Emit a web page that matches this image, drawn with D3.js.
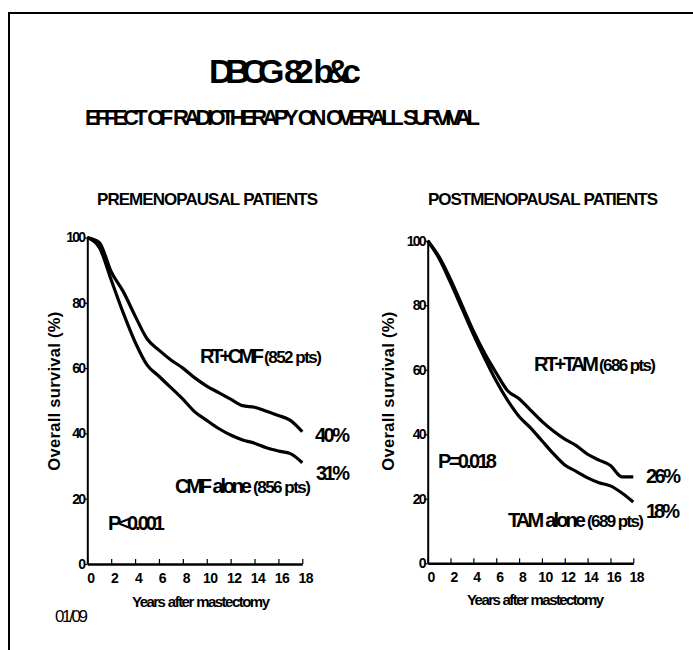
<!DOCTYPE html>
<html lang="en">
<head>
  <meta charset="UTF-8">
  <script src="https://cdn.jsdelivr.net/npm/d3@7"></script>
  <title>DBCG 82 b&c</title>
  <style>
    body { margin: 0; background: #fff; }
    svg { display: block; }
    text { font-family: "Liberation Sans", Arial, sans-serif; fill: #000; }
  </style>
</head>
<body>
<div id="chart"></div>
<script>

  // Data (overall survival, %)
  var years = [0, 1, 2, 3, 4, 5, 6, 7, 8, 9, 10, 11, 12, 13, 14, 15, 16, 17, 18];
  var preRtCmf = [100, 98.5, 89.5, 83.5, 76, 69, 65.5, 62.5, 60, 57, 54.5, 52.5, 50.5, 48.5, 48, 46.8, 45.5, 44, 40.5];
  var preCmf = [100, 97, 87, 77, 68, 61, 57.5, 54, 50.5, 46.6, 44, 41.5, 39.5, 38, 37, 35.6, 34.6, 33.8, 31];
  var postRtTam = [100, 95, 88, 80, 72, 65, 59, 53.5, 51, 47.5, 44, 41, 38.5, 36.5, 33.8, 32, 30.3, 26.8, 26.8];
  var postTam = [100, 94.5, 87, 79, 71, 63.5, 56.5, 50.5, 45.5, 42, 38, 34, 30.5, 28.5, 26.5, 25, 24, 21.8, 19];
  var xTicks = [0, 2, 4, 6, 8, 10, 12, 14, 16, 18];
  var yTicks = [0, 20, 40, 60, 80, 100];

  var W = 693, H = 650;

  var svg = d3.select("#chart")
      .append("svg")
      .attr("width", W)
      .attr("height", H);

  // slide frame (runs off the right and bottom edges)
  svg.append("rect")
      .attr("x", 9).attr("y", 13)
      .attr("width", 700).attr("height", 660)
      .attr("fill", "none")
      .attr("stroke", "#000")
      .attr("stroke-width", 2);

  // squeeze a text to a given width with letter-spacing,
  // keeping part of the word gaps (keep = 0..1)
  function fit(t, len, keep) {
    var s = t.text();
    var n = s.length;
    var spaces = s.split(" ").length - 1;
    keep = keep || 0;
    var natural = t.node().getComputedTextLength();
    if (n > 1) {
      var ls = (len - natural) / ((n - 1) - keep * spaces);
      t.attr("letter-spacing", ls);
      if (keep) t.attr("word-spacing", -ls * keep);
    }
    return t;
  }

  function label(str, x, y, size, len, weight, keep) {
    var t = svg.append("text")
        .attr("x", x).attr("y", y)
        .attr("font-size", size)
        .attr("font-weight", weight || "bold")
        .text(str);
    if (len) fit(t, len, keep);
    return t;
  }

  // Titles
  label("DBCG 82 b&c", 209, 83, 34, 152, "bold", 0.8);
  label("EFFECT OF RADIOTHERAPY ON OVERALL SURVIVAL", 85, 125, 22, 395, "bold", 0.6);
  label("PREMENOPAUSAL PATIENTS", 97, 205, 17, 221, "bold", 0.5);
  label("POSTMENOPAUSAL PATIENTS", 428, 205, 17, 230, "bold", 0.5);
  label("01/09", 55, 622, 17, 33, "normal");

  function drawPanel(left, right, top, bottom, upper, lower) {
    var x = d3.scaleLinear().domain([0, 18]).range([left, right]);
    var y = d3.scaleLinear().domain([0, 100]).range([bottom, top]);

    var line = d3.line()
        .x(function(d, i) { return x(years[i]); })
        .y(function(d) { return y(d); })
        .curve(d3.curveMonotoneX);

    [upper, lower].forEach(function(s) {
      svg.append("path")
          .datum(s)
          .attr("d", line)
          .attr("fill", "none")
          .attr("stroke", "#000")
          .attr("stroke-width", 3.2)
          .attr("stroke-linejoin", "round");
    });

    // y axis
    var ya = svg.append("g")
        .attr("transform", "translate(" + left + ",0)")
        .call(d3.axisLeft(y).tickValues(yTicks).tickSize(3).tickSizeOuter(0).tickPadding(0));
    ya.select(".domain").attr("stroke-width", 2);
    ya.selectAll(".tick line").attr("stroke-width", 1.2);
    ya.selectAll("text")
        .attr("font-size", 14)
        .attr("font-weight", "bold")
        .attr("letter-spacing", -1.8)
        .attr("font-family", "Liberation Sans, Arial, sans-serif");

    // x axis, ticks pointing up
    var xa = svg.append("g")
        .attr("transform", "translate(0," + bottom + ")")
        .call(d3.axisBottom(x).tickValues(xTicks).tickSizeInner(-5).tickSizeOuter(0).tickPadding(9));
    xa.select(".domain").attr("stroke-width", 2.5);
    xa.selectAll(".tick line").attr("stroke-width", 1.2);
    xa.selectAll("text")
        .attr("dx", 3)
        .attr("font-size", 14)
        .attr("font-weight", "bold")
        .attr("letter-spacing", -0.6)
        .attr("font-family", "Liberation Sans, Arial, sans-serif");

    return { x: x, y: y };
  }

  var pre = drawPanel(87.3, 302.3, 237.5, 564, preRtCmf, preCmf);
  var post = drawPanel(427.7, 633.3, 240.7, 563.3, postRtTam, postTam);

  // axis titles
  [[60, 391], [394, 391]].forEach(function(p) {
    var t = svg.append("text")
        .attr("transform", "translate(" + p[0] + "," + p[1] + ")rotate(-90)")
        .attr("text-anchor", "middle")
        .attr("font-size", 16.5)
        .attr("font-weight", "bold")
        .text("Overall survival (%)");
    fit(t, 159);
  });
  label("Years after mastectomy", 132, 607, 15, 138, "bold", 0.5);
  label("Years after mastectomy", 467, 605, 15, 137, "bold", 0.5);

  // premenopausal annotations
  label("RT+CMF", 200, 363, 20, 64);
  label("(852 pts)", 264, 363, 17, 58);
  label("CMF alone", 175, 493, 20, 77, "bold", 0.5);
  label("(856 pts)", 253, 493, 17, 58);
  label("40%", 315, 442, 20, 35);
  label("31%", 316, 480, 20, 34);
  label("P<0.001", 108, 530, 20, 57);

  // postmenopausal annotations
  label("RT+TAM", 534, 371, 20, 65);
  label("(686 pts)", 599, 371, 17, 57);
  label("TAM alone", 508, 527, 20, 78, "bold", 0.5);
  label("(689 pts)", 587, 527, 17, 57);
  label("26%", 646, 483, 20, 35);
  label("18%", 646, 518, 20, 34);
  label("P=0.018", 438, 468, 20, 59);

</script>
</body>
</html>
